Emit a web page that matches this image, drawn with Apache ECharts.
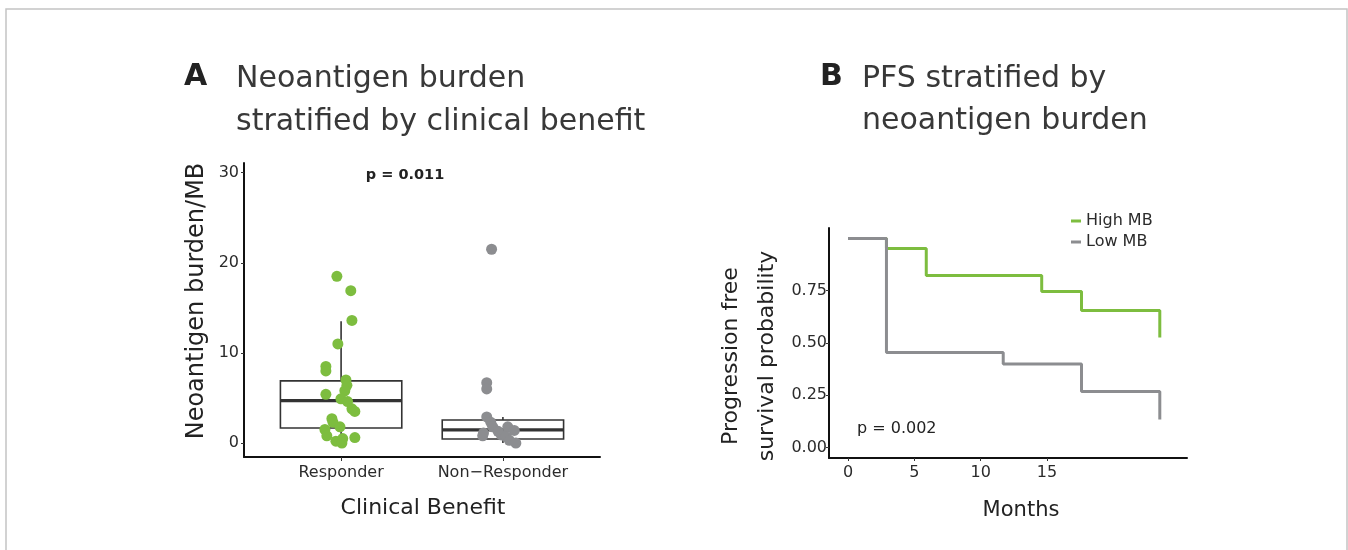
<!DOCTYPE html>
<html>
<head>
<meta charset="utf-8">
<script src="https://cdn.jsdelivr.net/npm/echarts@6/dist/echarts.min.js"></script>
<style>
html,body{margin:0;padding:0;background:#fff;}
#chart{width:1348px;height:550px;}
</style>
</head>
<body>
<div id="chart"></div>
<script>
// ---------- Panel A data ----------
var groupNames = ['Responder', 'Non\u2212Responder'];
var groupPositions = [1, 2];
// [position, lowerWhisker, Q1, median, Q3, upperWhisker]
var boxResponder = [1, 0.0, 1.67, 4.7, 6.9, 13.5];
var boxNonResponder = [2, 0.0, 0.45, 1.45, 2.55, 2.9];
// jittered points [x (jittered category position), neoantigen burden]
var responderPoints = [
  [0.974, 18.5], [1.06, 16.9], [1.067, 13.6], [0.98, 11.0], [0.906, 8.5],
  [0.906, 8.0], [1.03, 7.0], [1.036, 6.4], [1.023, 5.8], [0.906, 5.4],
  [0.999, 4.9], [1.04, 4.6], [1.067, 3.8], [1.085, 3.5], [0.943, 2.7],
  [0.95, 2.3], [0.993, 1.8], [0.9, 1.5], [0.912, 0.8], [1.085, 0.6],
  [0.968, 0.2], [1.01, 0.5], [1.005, 0.0]
];
var nonResponderPoints = [
  [1.93, 21.5], [1.9, 6.7], [1.9, 6.0], [1.9, 2.9], [1.925, 2.3],
  [1.937, 1.8], [1.88, 1.1], [1.875, 0.8], [1.97, 1.3], [1.99, 0.9],
  [2.03, 1.8], [2.07, 1.4], [2.02, 0.7], [2.04, 0.3], [2.08, 0.0]
];
var yTicksA = [0, 10, 20, 30];

// ---------- Panel B data ----------
var highMB = [[0, 1.0], [2.9, 0.952], [5.9, 0.823], [14.6, 0.746], [17.6, 0.655], [23.5, 0.526]];
var lowMB = [[0, 1.0], [2.9, 0.455], [11.7, 0.40], [17.6, 0.268], [23.5, 0.134]];
var xTicksB = [0, 5, 10, 15];
var yTicksB = [0, 0.25, 0.5, 0.75];

var GREEN = '#7dbd3f';
var GREY = '#8c8d90';
var TXT = '#2b2b2b';
var FONT = '"DejaVu Sans", "Open Sans", sans-serif';
var BOX_HALF = 0.375;

var chart = echarts.init(document.getElementById('chart'), null, {renderer: 'canvas'});

function renderBox(params, api) {
  var x = api.value(0), lo = api.value(1), q1 = api.value(2), med = api.value(3), q3 = api.value(4), hi = api.value(5);
  var tl = api.coord([x - BOX_HALF, q3]);
  var br = api.coord([x + BOX_HALF, q1]);
  var mL = api.coord([x - BOX_HALF, med]);
  var mR = api.coord([x + BOX_HALF, med]);
  var pHi = api.coord([x, hi]), pQ3 = api.coord([x, q3]), pQ1 = api.coord([x, q1]), pLo = api.coord([x, lo]);
  var ls = {stroke: '#333', lineWidth: 1.6};
  return {
    type: 'group',
    children: [
      {type: 'line', shape: {x1: pHi[0], y1: pHi[1], x2: pQ3[0], y2: pQ3[1]}, style: ls},
      {type: 'line', shape: {x1: pQ1[0], y1: pQ1[1], x2: pLo[0], y2: pLo[1]}, style: ls},
      {type: 'rect', shape: {x: tl[0], y: tl[1], width: br[0] - tl[0], height: br[1] - tl[1]}, style: {fill: '#fff', stroke: '#333', lineWidth: 1.6}},
      {type: 'line', shape: {x1: mL[0], y1: mL[1], x2: mR[0], y2: mR[1]}, style: {stroke: '#333', lineWidth: 3.2}}
    ]
  };
}

var axisLineStyle = {color: '#111', width: 2};

var option = {
  animation: false,
  backgroundColor: '#fff',
  grid: [
    {left: 244, top: 163, width: 356, height: 294, containLabel: false},
    {left: 829, top: 228, width: 358, height: 230, containLabel: false}
  ],
  xAxis: [
    {
      type: 'value', gridIndex: 0, min: 0.4, max: 2.6,
      axisLine: {show: true, onZero: false, lineStyle: axisLineStyle},
      axisTick: {show: true, length: 4, customValues: groupPositions, lineStyle: {color: '#333'}},
      axisLabel: {customValues: groupPositions, margin: 8, fontSize: 16, color: TXT, fontFamily: FONT,
        formatter: function (v) { var i = groupPositions.indexOf(Math.round(v)); return i >= 0 ? groupNames[i] : ''; }},
      splitLine: {show: false}
    },
    {
      type: 'value', gridIndex: 1, min: -1.43, max: 25.55,
      axisLine: {show: true, onZero: false, lineStyle: axisLineStyle},
      axisTick: {show: true, length: 3, customValues: xTicksB, lineStyle: {color: '#333'}},
      axisLabel: {customValues: xTicksB, margin: 7, fontSize: 16, color: TXT, fontFamily: FONT},
      splitLine: {show: false}
    }
  ],
  yAxis: [
    {
      type: 'value', gridIndex: 0, min: -1.55, max: 31.07,
      axisLine: {show: true, onZero: false, lineStyle: axisLineStyle},
      axisTick: {show: true, length: 3, customValues: yTicksA, lineStyle: {color: '#333'}},
      axisLabel: {customValues: yTicksA, margin: 5, fontSize: 16, color: TXT, fontFamily: FONT},
      splitLine: {show: false}
    },
    {
      type: 'value', gridIndex: 1, min: -0.05, max: 1.05,
      axisLine: {show: true, onZero: false, lineStyle: axisLineStyle},
      axisTick: {show: true, length: 3, customValues: yTicksB, lineStyle: {color: '#333'}},
      axisLabel: {customValues: yTicksB, margin: 2, fontSize: 16, color: TXT, fontFamily: FONT,
        formatter: function (v) { return v.toFixed(2); }},
      splitLine: {show: false}
    }
  ],
  legend: {
    data: ['High MB', 'Low MB'],
    orient: 'vertical', left: 1066, top: 208,
    icon: 'rect', itemWidth: 10, itemHeight: 3, itemGap: 5,
    textStyle: {fontSize: 16, color: TXT, fontFamily: FONT},
    selectedMode: false
  },
  series: [
    {type: 'custom', name: 'box', xAxisIndex: 0, yAxisIndex: 0, renderItem: renderBox,
      data: [boxResponder, boxNonResponder], z: 1, silent: true},
    {type: 'scatter', name: 'Responder', xAxisIndex: 0, yAxisIndex: 0, data: responderPoints,
      symbolSize: 11, itemStyle: {color: GREEN, opacity: 1}, z: 3},
    {type: 'scatter', name: 'Non-Responder', xAxisIndex: 0, yAxisIndex: 0, data: nonResponderPoints,
      symbolSize: 11, itemStyle: {color: GREY, opacity: 1}, z: 3},
    {type: 'line', name: 'High MB', xAxisIndex: 1, yAxisIndex: 1, data: highMB, step: 'end',
      showSymbol: false, lineStyle: {color: GREEN, width: 3}, itemStyle: {color: GREEN}, z: 3},
    {type: 'line', name: 'Low MB', xAxisIndex: 1, yAxisIndex: 1, data: lowMB, step: 'end',
      showSymbol: false, lineStyle: {color: GREY, width: 3}, itemStyle: {color: GREY}, z: 4}
  ],
  graphic: [
    {type: 'rect', shape: {x: 6, y: 9, width: 1341, height: 600}, style: {fill: 'none', stroke: '#c4c4c4', lineWidth: 1.5}, z: -10, silent: true},
    // Panel A titles
    {type: 'text', x: 184, y: 77, style: {text: 'A', font: 'bold 30px ' + FONT, fill: '#222', textVerticalAlign: 'middle'}},
    {type: 'text', x: 236, y: 79, style: {text: 'Neoantigen burden', font: '30px ' + FONT, fill: '#383838', textVerticalAlign: 'middle'}},
    {type: 'text', x: 236, y: 122, style: {text: 'stratified by clinical benefit', font: '30px ' + FONT, fill: '#383838', textVerticalAlign: 'middle'}},
    {type: 'text', x: 405, y: 175, style: {text: 'p = 0.011', font: 'bold 14.5px ' + FONT, fill: '#222', textAlign: 'center', textVerticalAlign: 'middle'}},
    {type: 'text', x: 197, y: 301, rotation: Math.PI / 2, style: {text: 'Neoantigen burden/MB', font: '24px ' + FONT, fill: '#222', textAlign: 'center', textVerticalAlign: 'middle'}},
    {type: 'text', x: 423, y: 508, style: {text: 'Clinical Benefit', font: '22px ' + FONT, fill: '#222', textAlign: 'center', textVerticalAlign: 'middle'}},
    // Panel B titles
    {type: 'text', x: 820, y: 77, style: {text: 'B', font: 'bold 30px ' + FONT, fill: '#222', textVerticalAlign: 'middle'}},
    {type: 'text', x: 862, y: 79, style: {text: 'PFS stratified by', font: '30px ' + FONT, fill: '#383838', textVerticalAlign: 'middle'}},
    {type: 'text', x: 862, y: 121, style: {text: 'neoantigen burden', font: '30px ' + FONT, fill: '#383838', textVerticalAlign: 'middle'}},
    {type: 'text', x: 857, y: 429, style: {text: 'p = 0.002', font: '16px ' + FONT, fill: '#222', textVerticalAlign: 'middle'}},
    {type: 'text', x: 731, y: 356, rotation: Math.PI / 2, style: {text: 'Progression free', font: '22px ' + FONT, fill: '#222', textAlign: 'center', textVerticalAlign: 'middle'}},
    {type: 'text', x: 767, y: 356, rotation: Math.PI / 2, style: {text: 'survival probability', font: '22px ' + FONT, fill: '#222', textAlign: 'center', textVerticalAlign: 'middle'}},
    {type: 'text', x: 1021, y: 511, style: {text: 'Months', font: '21px ' + FONT, fill: '#222', textAlign: 'center', textVerticalAlign: 'middle'}}
  ]
};
chart.setOption(option);
</script>
</body>
</html>
